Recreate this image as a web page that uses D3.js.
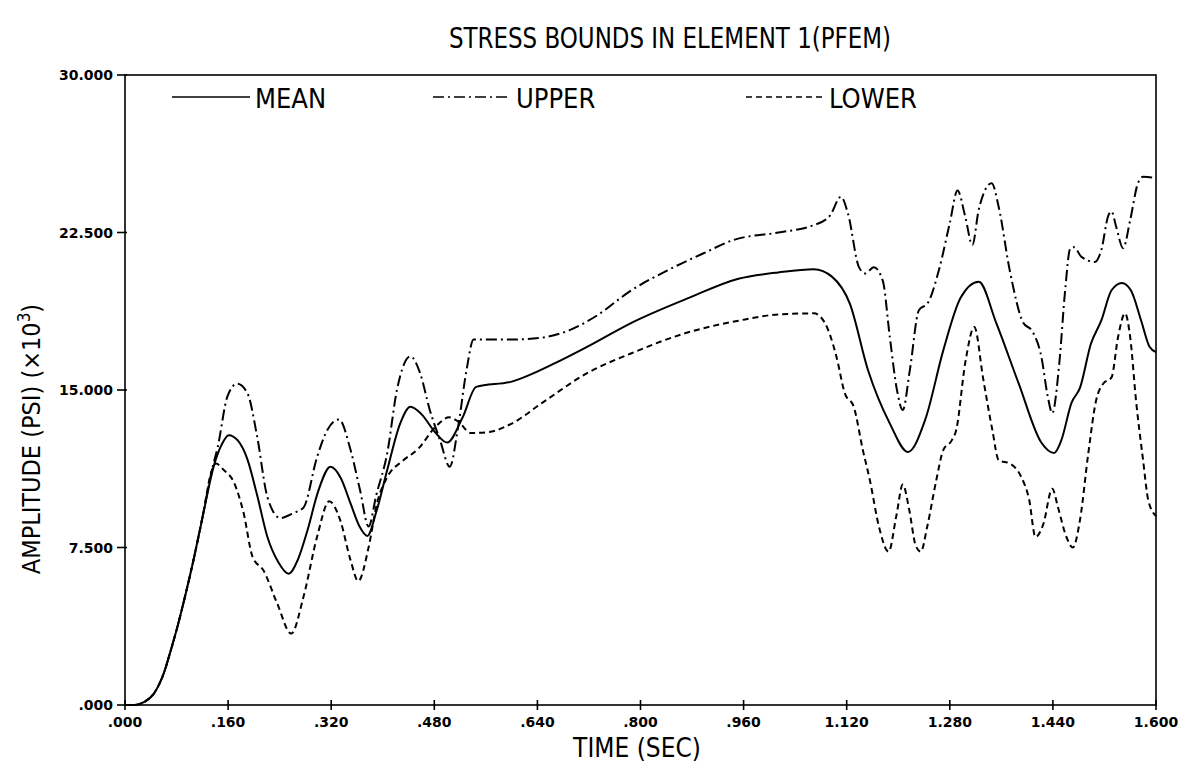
<!DOCTYPE html>
<html lang="en">
<head>
<meta charset="utf-8">
<title>Stress bounds</title>
<script src="https://cdnjs.cloudflare.com/ajax/libs/d3/7.8.5/d3.min.js"></script>
<style>
  body { margin: 0; background: #fff; }
  svg { display: block; }
  .tick-lbl { font-family: "DejaVu Sans", sans-serif; font-weight: bold; font-size: 14px; }
  .plot-txt { font-family: "DejaVu Sans Condensed", "Liberation Sans Narrow", sans-serif; }
</style>
</head>
<body>
<svg id="chart" width="1196" height="763"></svg>
<script>
// ---- data ----
let meanT = [0, 0.015, 0.03, 0.045, 0.06, 0.071, 0.082, 0.095, 0.107, 0.12, 0.138, 0.15, 0.161, 0.175, 0.19, 0.205, 0.221, 0.238, 0.254, 0.268, 0.283, 0.3, 0.319, 0.335, 0.35, 0.364, 0.376, 0.39, 0.407, 0.427, 0.443, 0.46, 0.481, 0.5, 0.524, 0.545, 0.6, 0.669, 0.717, 0.786, 0.876, 0.952, 1.014, 1.069, 1.097, 1.125, 1.153, 1.187, 1.215, 1.242, 1.27, 1.297, 1.325, 1.352, 1.387, 1.422, 1.442, 1.453, 1.469, 1.482, 1.499, 1.515, 1.531, 1.547, 1.561, 1.577, 1.59, 1.6];
let meanV = [0, 0, 0.15, 0.55, 1.5, 2.6, 3.8, 5.4, 7.0, 8.9, 11.4, 12.4, 12.85, 12.6, 11.7, 10.0, 8.0, 6.8, 6.25, 6.9, 8.3, 10.2, 11.35, 10.8, 9.6, 8.5, 8.05, 9.2, 11.2, 13.4, 14.2, 13.85, 13.0, 12.5, 13.7, 15.15, 15.4, 16.3, 17.05, 18.2, 19.4, 20.3, 20.6, 20.75, 20.4, 19.1, 15.95, 13.4, 12.05, 13.6, 16.9, 19.4, 20.15, 18.2, 15.3, 12.5, 12.0, 12.6, 14.4, 15.1, 17.2, 18.3, 19.75, 20.1, 19.75, 18.3, 17.06, 16.8];

let upperT = [0, 0.015, 0.03, 0.045, 0.06, 0.071, 0.082, 0.095, 0.107, 0.12, 0.135, 0.144, 0.159, 0.174, 0.19, 0.205, 0.221, 0.241, 0.262, 0.277, 0.298, 0.314, 0.332, 0.35, 0.365, 0.378, 0.39, 0.407, 0.422, 0.443, 0.458, 0.473, 0.489, 0.504, 0.517, 0.53, 0.541, 0.6, 0.648, 0.69, 0.73, 0.786, 0.842, 0.897, 0.945, 1.014, 1.069, 1.094, 1.111, 1.122, 1.139, 1.149, 1.162, 1.176, 1.187, 1.198, 1.207, 1.218, 1.232, 1.246, 1.263, 1.28, 1.292, 1.304, 1.315, 1.325, 1.345, 1.356, 1.373, 1.394, 1.408, 1.422, 1.432, 1.439, 1.45, 1.459, 1.467, 1.473, 1.484, 1.505, 1.515, 1.526, 1.531, 1.538, 1.549, 1.56, 1.572, 1.58, 1.6];
let upperV = [0, 0, 0.15, 0.55, 1.5, 2.6, 3.8, 5.4, 7.0, 8.9, 11.2, 12.3, 14.7, 15.3, 14.85, 12.8, 9.9, 8.9, 9.15, 9.4, 11.8, 13.1, 13.6, 12.15, 10.2, 8.5, 10.0, 12.0, 15.0, 16.6, 15.8, 14.05, 12.6, 11.35, 13.25, 15.95, 17.4, 17.4, 17.5, 17.85, 18.5, 19.75, 20.7, 21.5, 22.15, 22.5, 22.85, 23.3, 24.2, 23.4, 20.85, 20.55, 20.85, 20.2, 17.5, 15.0, 14.05, 15.95, 18.8, 19.15, 20.7, 22.95, 24.5, 23.25, 21.9, 23.6, 24.85, 23.7, 20.7, 18.2, 17.8, 16.6, 14.7, 13.9, 16.3, 19.75, 21.75, 21.8, 21.35, 21.1, 21.65, 23.3, 23.5, 22.8, 21.75, 23.1, 24.85, 25.15, 25.1];

let lowerT = [0, 0.015, 0.03, 0.045, 0.06, 0.071, 0.082, 0.095, 0.107, 0.12, 0.135, 0.141, 0.153, 0.169, 0.184, 0.198, 0.215, 0.236, 0.258, 0.277, 0.298, 0.317, 0.334, 0.35, 0.362, 0.378, 0.391, 0.407, 0.432, 0.455, 0.482, 0.503, 0.517, 0.537, 0.565, 0.6, 0.648, 0.717, 0.786, 0.869, 0.952, 1.014, 1.069, 1.086, 1.104, 1.117, 1.131, 1.145, 1.156, 1.17, 1.185, 1.197, 1.207, 1.217, 1.227, 1.235, 1.245, 1.259, 1.27, 1.283, 1.29, 1.304, 1.318, 1.332, 1.346, 1.356, 1.373, 1.391, 1.403, 1.413, 1.425, 1.439, 1.448, 1.461, 1.471, 1.482, 1.495, 1.507, 1.518, 1.531, 1.541, 1.552, 1.56, 1.569, 1.58, 1.588, 1.6];
let lowerV = [0, 0, 0.15, 0.55, 1.5, 2.6, 3.8, 5.4, 7.0, 8.9, 11.2, 11.5, 11.2, 10.6, 9.15, 7.05, 6.4, 4.85, 3.4, 5.15, 8.0, 9.7, 8.8, 6.9, 5.9, 7.5, 9.6, 10.85, 11.65, 12.2, 13.25, 13.7, 13.5, 12.95, 13.0, 13.4, 14.4, 15.8, 16.75, 17.7, 18.3, 18.6, 18.65, 18.2, 16.6, 14.85, 14.2, 12.15, 10.7, 8.5, 7.3, 9.0, 10.5, 9.3, 7.6, 7.3, 8.5, 10.7, 12.15, 12.6, 13.1, 16.3, 18.0, 15.5, 13.1, 11.65, 11.5, 10.85, 9.8, 8.0, 8.6, 10.3, 9.4, 8.0, 7.5, 8.8, 12.0, 14.5, 15.3, 15.6, 17.5, 18.65, 17.5, 14.5, 11.65, 9.75, 9.0];

let xTicks = [0, 0.16, 0.32, 0.48, 0.64, 0.8, 0.96, 1.12, 1.28, 1.44, 1.6];
let xTickLabels = [".000", ".160", ".320", ".480", ".640", ".800", ".960", "1.120", "1.280", "1.440", "1.600"];
let yTicks = [0, 7.5, 15, 22.5, 30];
let yTickLabels = [".000", "7.500", "15.000", "22.500", "30.000"];

let seriesNames = ["MEAN", "UPPER", "LOWER"];
let seriesDash = ["none", "11,4,2,4", "6,4"];

// ---- layout ----
let svg = d3.select('#chart');
let plotL = 125, plotR = 1156, plotT = 75, plotB = 705;

let x = d3.scaleLinear().domain([0, 1.6]).range([plotL, plotR]);
let y = d3.scaleLinear().domain([0, 30]).range([plotB, plotT]);

// frame
svg.append('rect')
    .attr('x', plotL).attr('y', plotT)
    .attr('width', plotR - plotL).attr('height', plotB - plotT)
    .attr('fill', 'none').attr('stroke', '#000').attr('stroke-width', 1.6);

// x ticks
let xg = svg.append('g');
xTicks.forEach((t, i) => {
    xg.append('line')
        .attr('x1', x(t)).attr('x2', x(t))
        .attr('y1', plotB - 5).attr('y2', plotB + 5)
        .attr('stroke', '#000').attr('stroke-width', 1.6);
    xg.append('text').attr('class', 'tick-lbl')
        .attr('x', x(t)).attr('y', plotB + 22)
        .attr('text-anchor', 'middle')
        .text(xTickLabels[i]);
});

// y ticks
let yg = svg.append('g');
yTicks.forEach((v, i) => {
    yg.append('line')
        .attr('x1', plotL - 8).attr('x2', plotL + 2)
        .attr('y1', y(v)).attr('y2', y(v))
        .attr('stroke', '#000').attr('stroke-width', 1.6);
    yg.append('text').attr('class', 'tick-lbl')
        .attr('x', plotL - 12).attr('y', y(v) + 5)
        .attr('text-anchor', 'end')
        .text(yTickLabels[i]);
});

// curves
let line = d3.line()
    .x(d => x(d[0]))
    .y(d => y(d[1]))
    .curve(d3.curveMonotoneX);

let series = [
    d3.zip(meanT, meanV),
    d3.zip(upperT, upperV),
    d3.zip(lowerT, lowerV)
];
series.forEach((pts, i) => {
    svg.append('path')
        .datum(pts)
        .attr('d', line)
        .attr('fill', 'none')
        .attr('stroke', '#000')
        .attr('stroke-width', 2)
        .attr('stroke-dasharray', seriesDash[i]);
});

// legend
let legendX = [172, 433, 746];
let legendY = 97;
seriesNames.forEach((name, i) => {
    svg.append('line')
        .attr('x1', legendX[i]).attr('x2', legendX[i] + 78)
        .attr('y1', legendY).attr('y2', legendY)
        .attr('stroke', '#000').attr('stroke-width', 1.6)
        .attr('stroke-dasharray', seriesDash[i]);
    svg.append('text').attr('class', 'plot-txt')
        .attr('x', legendX[i] + 83).attr('y', legendY + 11)
        .attr('font-size', 27)
        .text(name);
});

// titles
svg.append('text').attr('class', 'plot-txt')
    .attr('x', 670).attr('y', 48)
    .attr('text-anchor', 'middle')
    .attr('font-size', 28)
    .attr('textLength', 442).attr('lengthAdjust', 'spacingAndGlyphs')
    .text('STRESS BOUNDS IN ELEMENT 1(PFEM)');

svg.append('text').attr('class', 'plot-txt')
    .attr('x', 637).attr('y', 757)
    .attr('text-anchor', 'middle')
    .attr('font-size', 26)
    .text('TIME (SEC)');

let yl = svg.append('text').attr('class', 'plot-txt')
    .attr('transform', 'translate(40,439) rotate(-90)')
    .attr('text-anchor', 'middle')
    .attr('font-size', 25);
yl.append('tspan').text('AMPLITUDE (PSI) (×10');
yl.append('tspan').attr('dy', -10).attr('font-size', 17).text('3');
yl.append('tspan').attr('dy', 10).text(')');
</script>
</body>
</html>
